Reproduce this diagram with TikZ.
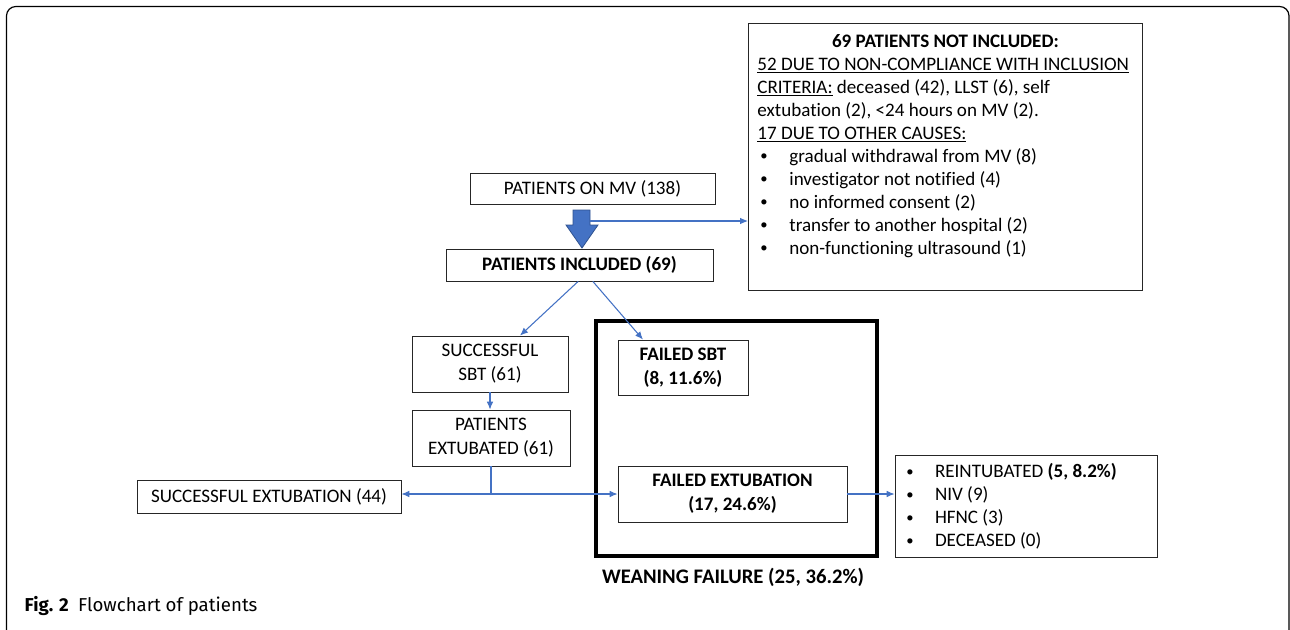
\documentclass[tikz,border=0pt]{standalone}
\usepackage{fontspec}
\setmainfont[Ligatures={NoCommon}]{Carlito}
\newfontfamily\capfont{Fira Sans}
\usetikzlibrary{positioning,arrows.meta,calc}
\definecolor{lineblue}{HTML}{4472C4}
\definecolor{arrowedge}{HTML}{2F528F}
\newcommand{\smallbul}{\raisebox{0.9pt}{\fontsize{11}{12}\selectfont\textbullet}}
\newcommand{\nibullet}{\hspace*{2.25pt}\makebox[21.75pt][l]{\smallbul}}
\newcommand{\outbullet}{\hspace*{1pt}\makebox[21.5pt][l]{\smallbul}}

\begin{document}
\begin{tikzpicture}[x=0.75pt, y=-0.75pt,
    every node/.style={font=\fontsize{14.3}{18}\selectfont},
    box/.style={draw=black!85, line width=0.6pt, align=center, inner sep=0pt},
    boldbox/.style={box, font=\fontsize{14.3}{18}\selectfont\bfseries},
    flow/.style={draw=lineblue, line width=0.8pt, -{Latex[length=6pt,width=5pt]}},
    twoflow/.style={draw=lineblue, line width=0.8pt, {Latex[length=6pt,width=5pt]}-{Latex[length=6pt,width=5pt]}}]
  \useasboundingbox (0,0) rectangle (1290,629);
  \draw[line width=0.9pt, rounded corners=7pt] (6.5,6.5) rectangle (1289,660);

  % top of the chart
  \node[box, minimum width=183.75pt, minimum height=23.25pt] (onmv) at (592.5,188.5) {PATIENTS ON MV (138)};
  \node[boldbox, minimum width=200.25pt, minimum height=24pt] (inc) at (579.5,265) {PATIENTS INCLUDED (69)};
  \node[box, anchor=north west, inner xsep=6.75pt, inner ysep=8pt] (ninc) at (748,23)
    {\begin{minipage}[t][184.25pt][t]{282pt}\fontsize{14.3}{17.25}\selectfont
      \centering\textbf{69 PATIENTS NOT INCLUDED:}\par
      \raggedright
      \underline{52 DUE TO NON-COMPLIANCE WITH INCLUSION}\\
      \underline{CRITERIA:} deceased (42), LLST (6), self\\
      extubation (2), <24 hours on MV (2).\\
      \underline{17 DUE TO OTHER CAUSES:}\\
      \nibullet gradual withdrawal from MV (8)\\
      \nibullet investigator not notified (4)\\
      \nibullet no informed consent (2)\\
      \nibullet transfer to another hospital (2)\\
      \nibullet non-functioning ultrasound (1)\par
    \end{minipage}};

  % weaning failure frame
  \node[draw, line width=3pt, minimum width=211.1pt, minimum height=176.25pt] (wean) at (736.25,438) {};
  \node[font=\fontsize{15.5}{18}\selectfont\bfseries] (weanlbl) at (733,577) {WEANING FAILURE (25, 36.2\%)};

  % branches
  \node[box, minimum width=117pt, minimum height=42pt] (suc) at (490,364) {SUCCESSFUL\\SBT (61)};
  \node[box, minimum width=118.5pt, minimum height=42pt] (ext) at (491,438) {PATIENTS\\EXTUBATED (61)};
  \node[box, minimum width=198pt, minimum height=24.75pt] (sucext) at (269,496.5) {SUCCESSFUL EXTUBATION (44)};
  \node[boldbox, fill=white, minimum width=97.5pt, minimum height=41.25pt] (fsbt) at (683,367.5) {FAILED SBT\\(8, 11.6\%)};
  \node[boldbox, fill=white, minimum width=171.75pt, minimum height=42pt] (fext) at (732.5,494) {FAILED EXTUBATION\\(17, 24.6\%)};
  \node[box, inner xsep=7.5pt, inner ysep=0pt, minimum height=76.5pt] (out) at (1026,506)
    {\begin{minipage}{181.5pt}\fontsize{14.3}{17.25}\selectfont\raggedright
     \outbullet REINTUBATED \textbf{(5, 8.2\%)}\\
     \outbullet NIV (9)\\
     \outbullet HFNC (3)\\
     \outbullet DECEASED (0)\par
     \end{minipage}};

  % caption
  \node[anchor=west, font=\capfont\fontsize{14}{16}\selectfont] (cap) at (20,606) {\textbf{Fig. 2}\enspace Flowchart of patients};

  % block arrow
  \filldraw[fill=lineblue, draw=arrowedge, line width=0.6pt]
    (573,210) -- (590,210) -- (590,225) -- (598,225) -- (582,248) -- (566,225) -- (573,225) -- cycle;

  % connectors
  \coordinate (mvsplit) at (590,221);
  \draw[flow] (mvsplit) -- (mvsplit -| ninc.west);
  \draw[flow] ([xshift=-1pt]inc.south) -- ([xshift=22.5pt]suc.north);
  \draw[flow] ([xshift=10pt]inc.south) -- ([xshift=-30pt]fsbt.north);
  \draw[flow] (suc.south) -- (suc.south |- ext.north);
  \coordinate (split) at (ext.south |- fext.west);
  \draw[draw=lineblue, line width=0.8pt] (ext.south) -- (split);
  \draw[twoflow] (sucext.east |- split) -- (fext.west);
  \draw[flow] (fext.east) -- (fext.east -| out.west);
\end{tikzpicture}
\end{document}
